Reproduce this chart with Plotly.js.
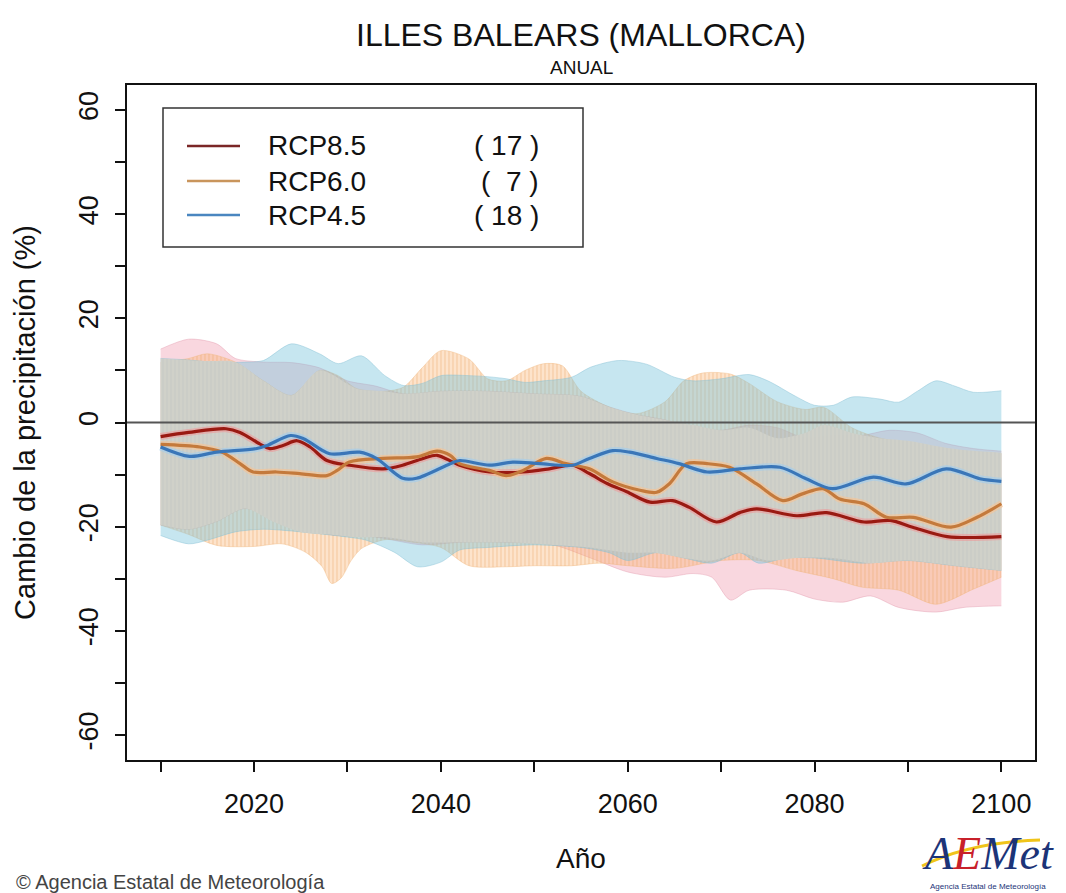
<!DOCTYPE html>
<html>
<head>
<meta charset="utf-8">
<script src="https://cdn.plot.ly/plotly-3.0.1.min.js"></script>
<style>html,body{margin:0;padding:0;background:#fff;}#chart{width:1066px;height:893px;}</style>
</head>
<body>
<div id="chart"></div>
<script>
// ---- Data ----
const scenarios = ["RCP8.5", "RCP6.0", "RCP4.5"];
const modelCounts = ["( 17 )", "(  7 )", "( 18 )"];

// Ensemble mean lines
const years85 = [2010, 2013, 2017, 2018.5, 2020.6, 2021.7, 2023.1, 2024.6, 2026, 2027.8, 2030.2, 2033.8, 2035.9, 2038.1, 2039.6, 2042, 2045.2, 2048.8, 2051.6, 2054.1, 2055.9, 2057.8, 2059.9, 2062.4, 2064.8, 2066.6, 2069.5, 2072, 2073.8, 2078.1, 2081.3, 2085.3, 2088.1, 2090.5, 2094.2, 2100];
const mean85 = [-2.7, -1.9, -1.2, -1.9, -4.1, -5.0, -4.4, -3.5, -4.7, -7.3, -8.2, -8.9, -8.2, -6.9, -6.3, -8.2, -9.5, -9.5, -8.9, -8.2, -9.8, -11.7, -13.3, -15.3, -15.0, -16.3, -19.1, -17.3, -16.6, -17.9, -17.3, -19.1, -18.8, -20.1, -21.9, -21.9];

const years60 = [2010, 2014.2, 2016.6, 2018.5, 2019.9, 2022.4, 2024.9, 2027.8, 2028.9, 2030.2, 2033.8, 2037.4, 2039.6, 2041, 2042, 2045.2, 2047, 2048.8, 2051.3, 2053.4, 2055.9, 2058.4, 2061.3, 2063.1, 2064.5, 2066.3, 2068.5, 2070.9, 2073.8, 2076.6, 2078.7, 2080.9, 2082.7, 2085.3, 2087.7, 2090.6, 2094.6, 2097.4, 2100];
const mean60 = [-4.2, -4.7, -5.7, -7.9, -9.5, -9.5, -9.8, -10.2, -9.2, -7.6, -6.9, -6.6, -5.5, -6.3, -7.9, -9.2, -10.2, -9.2, -6.9, -7.9, -8.9, -11.4, -13.0, -13.4, -11.7, -7.9, -7.9, -8.6, -11.8, -15.0, -13.7, -12.7, -14.7, -15.6, -18.2, -18.2, -20.1, -18.2, -15.6];

const years45 = [2010, 2013.1, 2016, 2020.3, 2021.4, 2023.9, 2025.3, 2028.1, 2031.3, 2033.1, 2035.9, 2037.4, 2041, 2042, 2045.2, 2047.7, 2050.6, 2054.1, 2055.9, 2058.4, 2060.2, 2063.1, 2065.5, 2068.5, 2072, 2076.3, 2079.1, 2081.9, 2086.3, 2089.8, 2094.1, 2097.7, 2100];
const mean45 = [-4.7, -6.5, -5.7, -5.0, -4.4, -2.5, -3.1, -6.0, -5.7, -6.9, -10.7, -10.7, -7.9, -7.3, -8.2, -7.6, -7.9, -8.2, -6.9, -5.4, -5.7, -6.9, -7.9, -9.5, -8.9, -8.6, -10.8, -12.7, -10.5, -11.8, -8.9, -10.8, -11.3];

// Spread bands (upper / lower) for each scenario
const up85Years = [2010, 2013, 2016, 2018, 2021, 2024, 2027, 2030, 2033, 2036, 2040, 2045, 2050, 2055, 2058, 2061, 2064, 2067, 2070, 2073, 2076, 2079, 2082, 2085, 2088, 2091, 2094, 2097, 2100];
const up85 = [14.1, 16.0, 15.1, 12.3, 11.6, 11.5, 10.5, 8.0, 7.0, 5.5, 6.0, 6.0, 5.5, 5.0, 3.0, 1.5, 0.5, -1.0, -1.5, -0.5, -1.0, -3.0, -2.5, -2.5, -1.5, -2.0, -4.0, -5.0, -5.5];
const lo85Years = [2010, 2013, 2016, 2019, 2023, 2028, 2033, 2038, 2042, 2047, 2052, 2056, 2060, 2064, 2067, 2069, 2071, 2073, 2077, 2080, 2083, 2086, 2089, 2093, 2096, 2100];
const lo85 = [-19.7, -20.5, -19.0, -16.5, -19.0, -21.5, -22.0, -23.5, -23.0, -23.0, -23.5, -26.0, -28.7, -29.7, -29.0, -29.7, -34.1, -32.2, -32.2, -33.9, -34.5, -33.3, -35.5, -36.4, -35.5, -35.2];

const up60Years = [2010, 2013, 2015, 2018, 2021, 2024, 2027, 2029, 2031, 2034, 2036, 2038, 2040, 2043, 2045, 2047, 2049, 2051, 2053, 2055, 2058, 2061, 2064, 2066, 2068, 2071, 2073, 2076, 2079, 2081, 2084, 2087, 2090, 2093, 2096, 2100];
const up60 = [11.5, 12.3, 13.2, 11.6, 8.0, 5.2, 10.0, 9.0, 6.5, 6.0, 6.8, 10.5, 13.8, 12.2, 8.4, 8.0, 10.0, 11.3, 10.9, 6.0, 3.0, 1.7, 4.0, 8.0, 9.5, 9.3, 7.5, 4.0, 2.5, 2.9, -1.0, -3.0, -4.0, -5.0, -5.5, -6.0];
const lo60Years = [2010, 2013, 2016, 2020, 2023, 2025.5, 2027.3, 2028.3, 2029.3, 2030.4, 2031.5, 2034, 2037, 2040, 2043, 2047, 2050, 2054, 2057, 2060, 2065, 2070, 2074, 2078, 2082, 2085, 2089, 2093, 2097, 2100];
const lo60 = [-19.7, -21.5, -23.6, -23.8, -23.3, -24.9, -27.7, -30.9, -29.9, -26.5, -24.2, -22.5, -23.0, -24.0, -27.5, -27.7, -27.5, -27.5, -27.0, -27.5, -28.0, -26.5, -26.5, -28.4, -30.0, -31.6, -32.2, -34.9, -32.0, -29.7];

const up45Years = [2010, 2013, 2016, 2019, 2021, 2024, 2027, 2029, 2031.5, 2034, 2036, 2038, 2040, 2043, 2045, 2047, 2049, 2051, 2054, 2056, 2059, 2062, 2065, 2067, 2070, 2073, 2075, 2078, 2080, 2082, 2084, 2087, 2089, 2091, 2093, 2095, 2097, 2100];
const up45 = [12.3, 12.0, 11.5, 11.6, 11.9, 15.1, 13.2, 11.3, 12.8, 9.0, 7.1, 7.5, 9.0, 9.0, 8.8, 8.4, 7.7, 8.0, 8.7, 10.6, 11.9, 11.2, 8.7, 8.0, 8.4, 9.2, 8.0, 5.0, 3.3, 3.3, 4.9, 4.5, 3.9, 6.0, 8.0, 7.0, 5.8, 6.1];
const lo45Years = [2010, 2013, 2015, 2018, 2021, 2025, 2030, 2032, 2035, 2037.5, 2040, 2042, 2045, 2050, 2055, 2058, 2060, 2063, 2066, 2069, 2072, 2074, 2077, 2080, 2085, 2090, 2095, 2100];
const lo45 = [-21.7, -23.3, -22.6, -21.0, -20.5, -21.0, -22.0, -22.6, -24.9, -27.7, -26.8, -24.5, -24.0, -23.5, -24.0, -25.0, -26.5, -25.0, -26.0, -27.0, -25.0, -27.0, -26.0, -26.0, -27.0, -26.5, -27.5, -28.4];

// Common range shared by all scenarios (grey area in the reference)
const upCommonYears = [2010, 2015, 2018, 2021, 2024, 2027, 2031, 2034, 2036, 2040, 2045, 2050, 2055, 2058, 2061, 2064, 2067, 2070, 2073, 2076, 2079, 2081, 2084, 2087, 2090, 2093, 2096, 2100];
const upCommon = [12.3, 11.8, 11.6, 8.0, 5.2, 10.0, 6.5, 6.0, 5.5, 6.0, 6.0, 5.5, 5.0, 3.0, 1.5, 0.5, -0.5, -1.5, -1.0, -3.0, -2.0, -0.5, -2.0, -3.0, -3.5, -4.5, -5.3, -5.8];
const loCommonYears = [2010, 2013, 2016, 2019, 2022, 2025, 2028, 2031, 2034, 2038, 2042, 2047, 2052, 2056, 2060, 2063, 2066, 2069, 2072, 2075, 2078, 2082, 2086, 2090, 2095, 2100];
const loCommon = [-19.7, -20.5, -19.0, -16.5, -19.0, -21.0, -21.5, -22.0, -22.0, -23.0, -23.0, -23.0, -23.5, -24.0, -25.0, -25.0, -26.0, -26.5, -25.0, -26.5, -26.0, -26.0, -27.0, -26.5, -27.5, -28.4];

// Tick labels
const xTickVals = [2020, 2040, 2060, 2080, 2100];
const xTickText = ["2020", "2040", "2060", "2080", "2100"];
const yTickVals = [-60, -40, -20, 0, 20, 40, 60];
const yTickText = ["-60", "-40", "-20", "0", "20", "40", "60"];

// ---- Styles ----
const FONT = "Liberation Sans, Arial, Helvetica, sans-serif";
const lineColors = ["#9a1a12", "#c47a3c", "#3a76b8"];
const haloColors = ["rgba(240,150,150,0.55)", "rgba(250,195,145,0.6)", "rgba(160,205,240,0.6)"];
const legendColors = ["#7a2626", "#c9955c", "#4a86c0"];

function bandTraces(loX, loY, upX, upY, fill, edge, pattern) {
  const w = edge === "rgba(0,0,0,0)" ? 0 : 0.8;
  const lower = {x: loX, y: loY, type: "scatter", mode: "lines",
    line: {color: edge, width: w, shape: "spline", smoothing: 0.8},
    hoverinfo: "skip", showlegend: false};
  const upper = {x: upX, y: upY, type: "scatter", mode: "lines", fill: "tonexty",
    fillcolor: fill, line: {color: edge, width: w, shape: "spline", smoothing: 0.8},
    hoverinfo: "skip", showlegend: false};
  if (pattern) upper.fillpattern = pattern;
  return [lower, upper];
}

const traces = [];
traces.push(...bandTraces(lo85Years, lo85, up85Years, up85, "rgba(238,150,172,0.38)", "rgba(225,150,170,0.5)"));
traces.push(...bandTraces(lo60Years, lo60, up60Years, up60, "rgba(250,182,118,0.38)", "rgba(240,180,120,0.5)",
  {shape: "|", size: 4, solidity: 0.25, bgcolor: "rgba(250,182,118,0.38)", fgcolor: "rgba(235,165,95,0.45)"}));
traces.push(...bandTraces(lo45Years, lo45, up45Years, up45, "rgba(120,195,220,0.42)", "rgba(130,190,212,0.55)"));
traces.push(...bandTraces(loCommonYears, loCommon, upCommonYears, upCommon, "rgba(203,205,199,0.97)", "rgba(0,0,0,0)",
  {shape: "|", size: 4, solidity: 0.25, bgcolor: "rgba(203,205,199,0.97)", fgcolor: "rgba(214,214,204,0.9)"}));

const lineX = [years85, years60, years45];
const lineY = [mean85, mean60, mean45];
for (let i = 0; i < 3; i++) {
  traces.push({x: lineX[i], y: lineY[i], type: "scatter", mode: "lines",
    line: {color: haloColors[i], width: 7, shape: "spline", smoothing: 0.9},
    hoverinfo: "skip", showlegend: false});
}
for (let i = 0; i < 3; i++) {
  traces.push({x: lineX[i], y: lineY[i], type: "scatter", mode: "lines", name: scenarios[i],
    line: {color: lineColors[i], width: 3.2, shape: "spline", smoothing: 0.9},
    showlegend: false});
}

// ---- Layout ----
// plot area: left 127, right 1035, top 85, bottom 760 (px)
const PL = 127, PW = 908, PT = 85, PH = 675;
const px = v => (v - PL) / PW;
const py = v => 1 - (v - PT) / PH;

const legendRowsY = [146, 181, 215];
const shapes = [
  {type: "line", xref: "paper", yref: "y", x0: 0, x1: 1, y0: 0, y1: 0,
   line: {color: "#555555", width: 2.2}, layer: "above"},
  {type: "rect", xref: "paper", yref: "paper", x0: px(163), x1: px(583), y0: py(247), y1: py(108),
   line: {color: "#333333", width: 1.5}, fillcolor: "#ffffff", layer: "above"}
];
const annotations = [
  {text: "ANUAL", xref: "paper", yref: "paper", x: 0.5, y: py(68), xanchor: "center", yanchor: "middle",
   showarrow: false, font: {family: FONT, size: 19, color: "#111"}},
  {text: "© Agencia Estatal de Meteorología", xref: "paper", yref: "paper", x: px(14), y: py(882),
   xanchor: "left", yanchor: "middle", showarrow: false, font: {family: FONT, size: 20, color: "#444"}},
  {text: "<i>A<span style='color:#c8202a'>E</span>Met</i>", xref: "paper", yref: "paper", x: px(988), y: py(853),
   xanchor: "center", yanchor: "middle", showarrow: false, font: {family: "Liberation Serif, serif", size: 46, color: "#1c3478"}},
  {text: "Agencia Estatal de Meteorología", xref: "paper", yref: "paper", x: px(988), y: py(886),
   xanchor: "center", yanchor: "middle", showarrow: false, font: {family: FONT, size: 8, color: "#1c3478"}}
];
for (let i = 0; i < 3; i++) {
  shapes.push({type: "line", xref: "paper", yref: "paper", x0: px(187), x1: px(240),
    y0: py(legendRowsY[i]), y1: py(legendRowsY[i]), line: {color: legendColors[i], width: 2.5}, layer: "above"});
  annotations.push({text: scenarios[i], xref: "paper", yref: "paper", x: px(266), y: py(legendRowsY[i]),
    xanchor: "left", yanchor: "middle", showarrow: false, font: {family: FONT, size: 28, color: "#111"}});
  annotations.push({text: modelCounts[i].replace(/ /g, "\u00a0"), xref: "paper", yref: "paper", x: px(541), y: py(legendRowsY[i]),
    xanchor: "right", yanchor: "middle", showarrow: false, font: {family: FONT, size: 28, color: "#111"}});
}
// logo swoosh
shapes.push({type: "path", xref: "paper", yref: "paper",
  path: `M ${px(922)} ${py(866)} Q ${px(970)} ${py(842)} ${px(1040)} ${py(840)}`,
  line: {color: "#f0c419", width: 3}, layer: "above"});

const layout = {
  width: 1066, height: 893,
  margin: {l: PL, r: 1066 - PL - PW, t: PT, b: 893 - PT - PH, pad: 0},
  paper_bgcolor: "#ffffff", plot_bgcolor: "#ffffff",
  font: {family: FONT, color: "#111"},
  showlegend: false,
  title: {text: "ILLES BALEARS (MALLORCA)", x: 0.5, xref: "paper", xanchor: "center",
    y: 1 - 35 / 893, yref: "container", yanchor: "middle", font: {family: FONT, size: 32, color: "#111"}},
  xaxis: {range: [2006.4, 2103.6], tickmode: "array", tickvals: xTickVals, ticktext: xTickText, ticks: "outside", ticklen: 10, tickwidth: 2,
    tickcolor: "#111", showline: true, linecolor: "#111", linewidth: 2, mirror: true, showgrid: false, zeroline: false,
    tickfont: {family: FONT, size: 27, color: "#111"}, ticklabelstandoff: 9,
    minor: {tickmode: "array", tickvals: [2010, 2030, 2050, 2070, 2090], ticks: "outside", ticklen: 10, tickwidth: 2, tickcolor: "#111", showgrid: false},
    title: {text: "Año", font: {family: FONT, size: 28, color: "#111"}, standoff: 30}},
  yaxis: {range: [-64.8, 64.8], tickmode: "array", tickvals: yTickVals, ticktext: yTickText, ticks: "outside", ticklen: 10, tickwidth: 2,
    tickcolor: "#111", showline: true, linecolor: "#111", linewidth: 2, mirror: true, showgrid: false, zeroline: false,
    tickangle: -90, tickfont: {family: FONT, size: 27, color: "#111"}, ticklabelstandoff: 6,
    minor: {tickmode: "array", tickvals: [-50, -30, -10, 10, 30, 50], ticks: "outside", ticklen: 10, tickwidth: 2, tickcolor: "#111", showgrid: false},
    title: {text: "Cambio de la precipitación (%)", font: {family: FONT, size: 29, color: "#111"}, standoff: 30}},
  shapes: shapes,
  annotations: annotations
};

Plotly.newPlot("chart", traces, layout, {displayModeBar: false, staticPlot: true});
</script>
</body>
</html>
